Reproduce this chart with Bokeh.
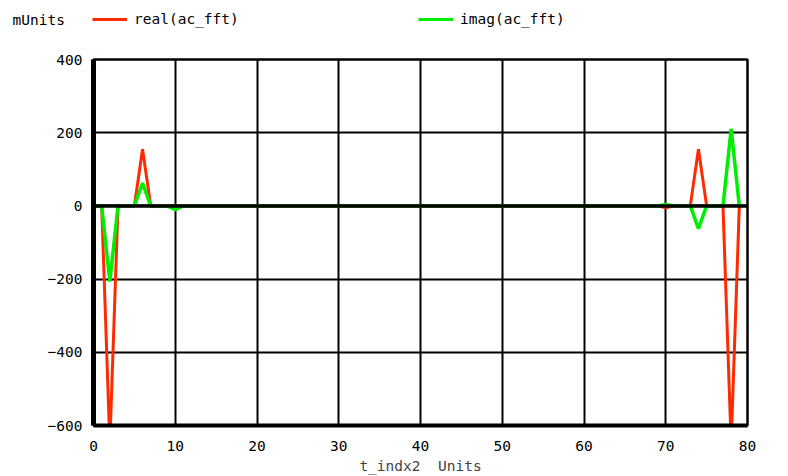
from bokeh.plotting import figure
from bokeh.layouts import column
from bokeh.models import (Range1d, FixedTicker, Legend, LegendItem, Label, Span)
from bokeh.embed import file_html
from bokeh.resources import INLINE

# ---- data ----
t_indx2 = list(range(80))
real_ac_fft = [0, 0, -650, 0, 0, 0, 155, 0, 0, 0,
               -5, 0, 0, 0, 0, 0, 0, 0, 0, 0,
               0, 0, 0, 0, 0, 0, 0, 0, 0, 0,
               0, 0, 0, 0, 0, 0, 0, 0, 0, 0,
               0, 0, 0, 0, 0, 0, 0, 0, 0, 0,
               0, 0, 0, 0, 0, 0, 0, 0, 0, 0,
               0, 0, 0, 0, 0, 0, 0, 0, 0, 0,
               -5, 0, 0, 0, 155, 0, 0, 0, -650, 0]
imag_ac_fft = [0, 0, -207, 0, 0, 0, 62, 0, 0, 0,
               -10, 0, 0, 0, 0, 0, 0, 0, 0, 0,
               0, 0, 0, 0, 0, 0, 0, 0, 0, 0,
               0, 0, 0, 0, 0, 0, 0, 0, 0, 0,
               0, 0, 0, 0, 0, 0, 0, 0, 0, 0,
               0, 0, 0, 0, 0, 0, 0, 0, 0, 0,
               0, 0, 0, 0, 0, 0, 0, 0, 0, 0,
               4, 0, 0, 0, -62, 0, 0, 0, 210, 0]
x_ticks = [0, 10, 20, 30, 40, 50, 60, 70, 80]
y_ticks = [-600, -400, -200, 0, 200, 400]
x_title = "t_indx2 \u00a0Units"
y_units = "mUnits"
series_names = ["real(ac_fft)", "imag(ac_fft)"]
series_colors = ["#ff2a00", "#00ee00"]

FONT = "DejaVu Sans Mono"
FS = "14.5px"
HDR_H = 40

# ---- header strip holding the unit label and the legend ----
hdr = figure(width=788, height=HDR_H, output_backend="svg", toolbar_location=None,
             x_range=Range1d(0, 1), y_range=Range1d(0, 1),
             x_axis_type=None, y_axis_type=None,
             min_border=0, min_border_left=0, min_border_right=0,
             min_border_top=0, min_border_bottom=0)
hdr.frame_align = False
hdr.outline_line_color = None
hdr.grid.visible = False
hdr.background_fill_color = "white"
hdr.border_fill_color = "white"

# legend-only renderers (their points lie outside the header's range)
h_real = hdr.line(x=[-5, -4], y=[-5, -5], line_color=series_colors[0], line_width=3)
h_imag = hdr.line(x=[-5, -4], y=[-5, -5], line_color=series_colors[1], line_width=3)

legend = Legend(items=[LegendItem(label=series_names[0], renderers=[h_real]),
                       LegendItem(label=series_names[1], renderers=[h_imag])],
                orientation="horizontal", location=(92, 11),
                glyph_width=35, glyph_height=20, label_height=20,
                label_width=270, label_standoff=7, spacing=14,
                padding=0, margin=0,
                border_line_alpha=0, background_fill_alpha=0,
                label_text_font=FONT, label_text_font_size=FS,
                label_text_color="black")
hdr.add_layout(legend, "center")

lbl = Label(x=12, y=HDR_H - 19, x_units="screen", y_units="screen", text=y_units,
            text_font=FONT, text_font_size=FS, text_baseline="middle",
            text_align="left", text_color="black")
hdr.add_layout(lbl)

# ---- main chart ----
p = figure(width=788, height=476 - HDR_H, output_backend="svg", toolbar_location=None,
           x_range=Range1d(0, 80), y_range=Range1d(-600, 400),
           min_border_left=93, min_border_right=41,
           min_border_top=59 - HDR_H, min_border_bottom=48)
p.frame_align = False
p.background_fill_color = "white"
p.border_fill_color = "white"
p.outline_line_color = "black"
p.outline_line_width = 2.5

for ax in (p.xaxis[0], p.yaxis[0]):
    ax.major_label_text_font = FONT
    ax.major_label_text_font_size = FS
    ax.major_label_text_color = "black"
    ax.major_tick_line_color = None
    ax.minor_tick_line_color = None
    ax.axis_line_color = "black"

p.xaxis.ticker = FixedTicker(ticks=x_ticks)
p.yaxis.ticker = FixedTicker(ticks=y_ticks)
p.xaxis.axis_line_width = 4
p.yaxis.axis_line_width = 5
p.xaxis.major_label_standoff = 9
p.yaxis.major_label_standoff = 5
p.xaxis.axis_label = x_title
p.xaxis.axis_label_text_font = FONT
p.xaxis.axis_label_text_font_size = FS
p.xaxis.axis_label_text_font_style = "normal"
p.xaxis.axis_label_standoff = 4

p.xgrid.ticker = FixedTicker(ticks=x_ticks)
p.ygrid.ticker = FixedTicker(ticks=y_ticks)
for g in (p.xgrid[0], p.ygrid[0]):
    g.grid_line_color = "black"
    g.grid_line_width = 2
    g.grid_line_alpha = 1.0

zero = Span(location=0, dimension="width", line_color="black", line_width=3.5)
p.add_layout(zero)

p.line(t_indx2, real_ac_fft, line_color=series_colors[0], line_width=3)
p.line(t_indx2, imag_ac_fft, line_color=series_colors[1], line_width=3.5)

layout = column(hdr, p, spacing=0)
open("out.html", "w").write(file_html(layout, INLINE))
